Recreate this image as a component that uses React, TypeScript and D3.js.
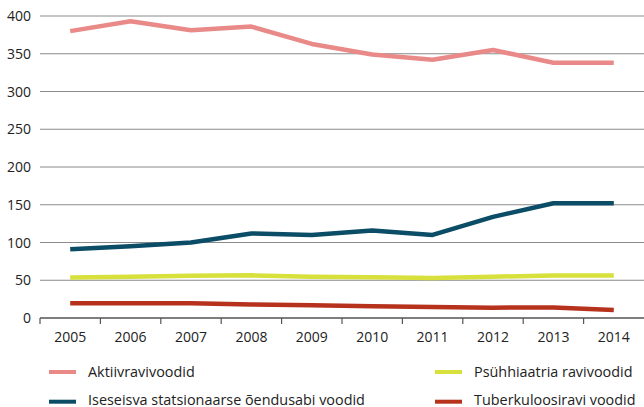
import React from "react";
import * as d3 from "d3";

const years = ["2005", "2006", "2007", "2008", "2009", "2010", "2011", "2012", "2013", "2014"];
const aktiiv = [380, 393, 381, 386, 363, 349, 342, 355, 338, 338];
const iseseisva = [91, 95, 100, 112, 110, 116, 110, 134, 152, 152];
const psyhh = [53.5, 54.7, 55.8, 56.5, 54.7, 54, 53, 54.7, 56.4, 56.4];
const tuberk = [19.4, 19.4, 19.4, 18, 16.8, 15.4, 14.6, 13.7, 13.9, 10.6];
const yTicks = [0, 50, 100, 150, 200, 250, 300, 350, 400];

const series = [
  { name: "Aktiivravivoodid", values: aktiiv, color: "#e98a89" },
  { name: "Iseseisva statsionaarse õendusabi voodid", values: iseseisva, color: "#0b4c66" },
  { name: "Psühhiaatria ravivoodid", values: psyhh, color: "#d8e03c" },
  { name: "Tuberkuloosiravi voodid", values: tuberk, color: "#b6321d" },
];

const legendPos = [
  { col: 0, row: 0 },
  { col: 0, row: 1 },
  { col: 1, row: 0 },
  { col: 1, row: 1 },
];

export default function App() {
  const W = 644, H = 407;
  const left = 40, right = 644, top = 16, bottom = 318;
  const x = d3.scaleBand<string>().domain(years).range([left, right]).padding(0);
  const y = d3.scaleLinear().domain([0, 400]).range([bottom, top]);
  const line = d3
    .line<number>()
    .x((_, i) => (x(years[i]) as number) + x.bandwidth() / 2)
    .y((d) => y(d));
  const font = "'Open Sans', sans-serif";
  const legendX = [49, 435];
  const legendY = [372, 401.7];
  const legendBase = [376.5, 404.5];
  return (
    <svg
      width={W}
      height={H}
      style={{ position: "absolute", left: 0, top: 0, display: "block" }}
      fontFamily={font}
    >
      <rect width={W} height={H} fill="#fff" />
      {yTicks.map((t) => (
        <g key={t}>
          <line
            x1={left}
            x2={right}
            y1={y(t)}
            y2={y(t)}
            stroke={t === 0 ? "#555" : "#8a8a8a"}
            strokeWidth={t === 0 ? 1.4 : 1.2}
          />
          <text x={31} y={y(t)} dy="0.36em" textAnchor="end" fontSize={14} fill="#222">
            {t}
          </text>
        </g>
      ))}
      {years.map((yr) => (
        <g key={yr}>
          <line
            x1={x(yr) as number}
            x2={x(yr) as number}
            y1={bottom}
            y2={bottom + 6}
            stroke="#555"
            strokeWidth={1.2}
          />
          <text
            x={(x(yr) as number) + x.bandwidth() / 2}
            y={342.3}
            textAnchor="middle"
            fontSize={14}
            fill="#222"
          >
            {yr}
          </text>
        </g>
      ))}
      {series.map((s) => (
        <path
          key={s.name}
          d={line(s.values) || ""}
          fill="none"
          stroke={s.color}
          strokeWidth={4.5}
          strokeLinejoin="round"
        />
      ))}
      {series.map((s, i) => {
        const p = legendPos[i];
        const lx = legendX[p.col];
        const ly = legendY[p.row];
        return (
          <g key={s.name + "-leg"}>
            <line x1={lx} x2={lx + 27} y1={ly} y2={ly} stroke={s.color} strokeWidth={4} />
            <text x={lx + 39} y={legendBase[p.row]} fontSize={14.4} fill="#222">
              {s.name}
            </text>
          </g>
        );
      })}
    </svg>
  );
}
